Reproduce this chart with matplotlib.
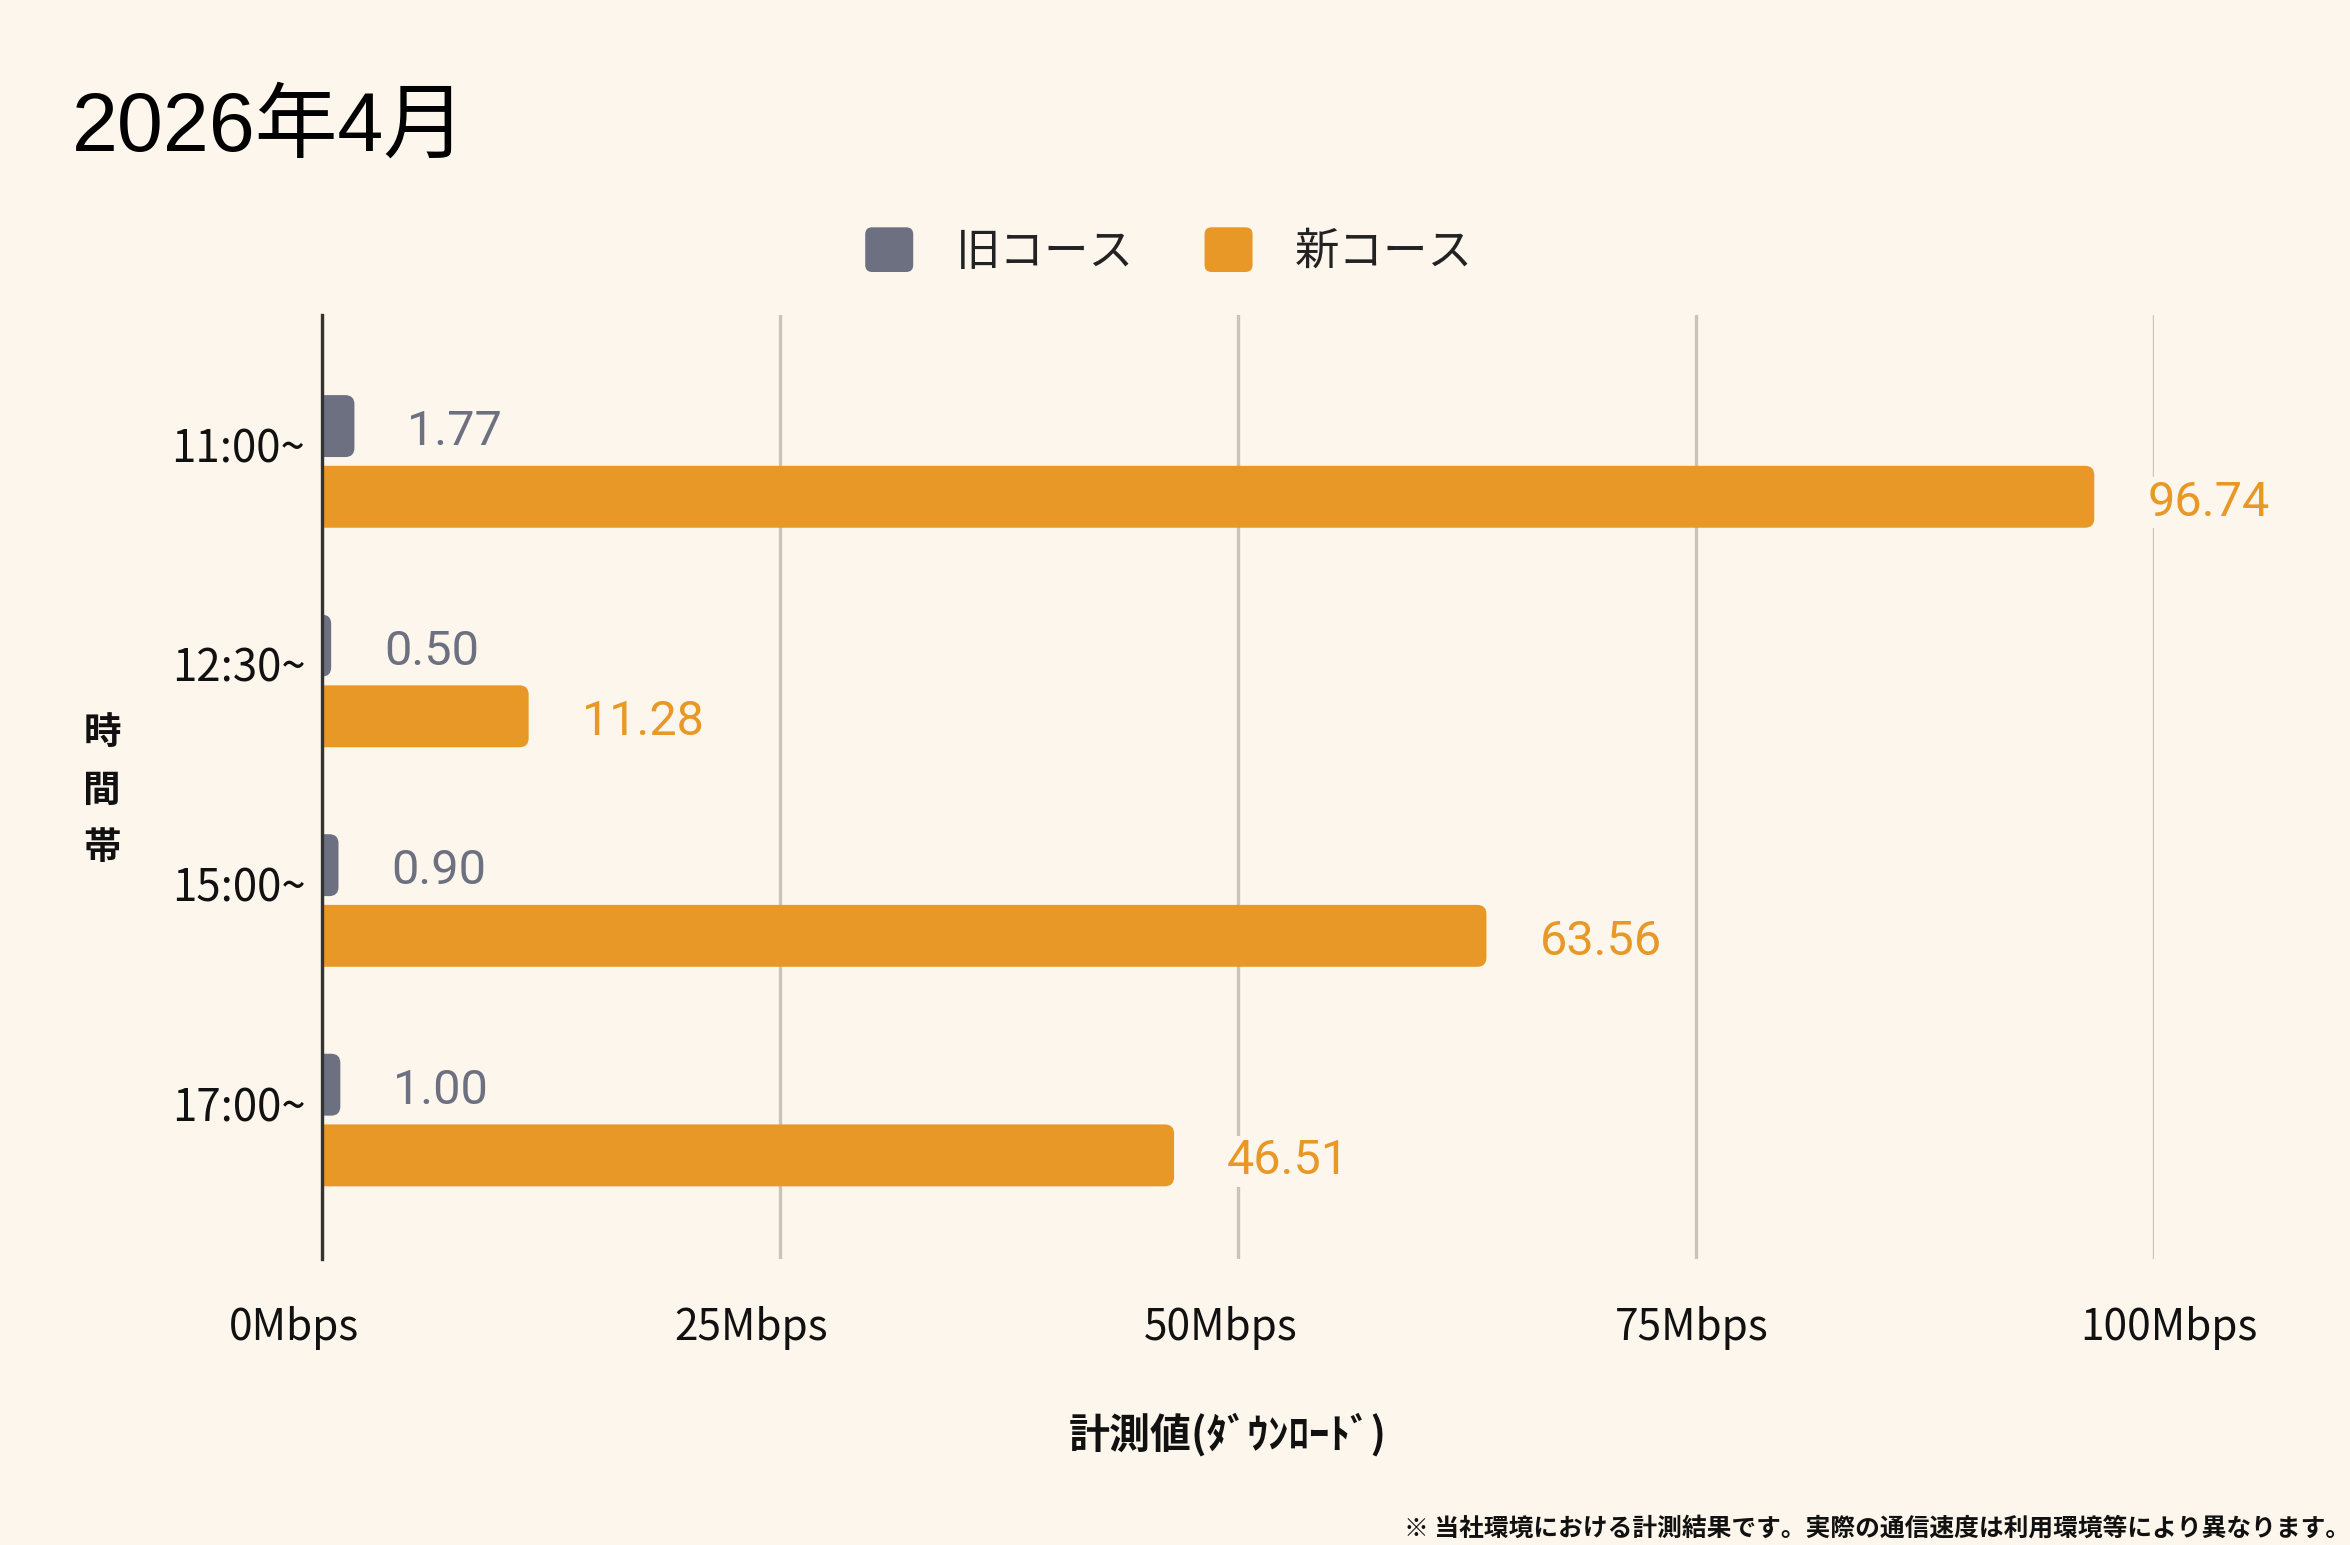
import matplotlib
matplotlib.use("Agg")
import matplotlib.pyplot as plt
import matplotlib.transforms as mtransforms
from matplotlib.patches import FancyBboxPatch, Patch
from matplotlib.legend_handler import HandlerBase

# ---------------- data ----------------
categories = ["11:00~", "12:30~", "15:00~", "17:00~"]
old_values = [1.77, 0.50, 0.90, 1.00]
new_values = [96.74, 11.28, 63.56, 46.51]
series_names = ["旧コース", "新コース"]
x_ticks = [0, 25, 50, 75, 100]
x_tick_labels = ["0Mbps", "25Mbps", "50Mbps", "75Mbps", "100Mbps"]
title_text = "2026年4月"
y_label = "時間帯"
x_label = "計測値(ﾀﾞｳﾝﾛｰﾄﾞ)"
footnote = "※ 当社環境における計測結果です。実際の通信速度は利用環境等により異なります。"

# ---------------- style ----------------
BG = "#fdf6ec"
OLD = "#6c7080"
NEW = "#e79826"
GRID = "#c8c5b8"
CJK = ["Noto Sans CJK JP", "DejaVu Sans"]
xtick_label_shift_px = [-28, -29, -17, -4, 15]  # label placement tweak

W, H, DPI = 2350, 1545, 100
fig = plt.figure(figsize=(W / DPI, H / DPI), dpi=DPI, facecolor=BG)

left, right, top, bottom = 322, 2154, 315, 1259
ax = fig.add_axes([left / W, 1 - bottom / H, (right - left) / W, (bottom - top) / H])
ax.set_facecolor(BG)

ax.set_xlim(0, 100)
ax.set_ylim(3.633, -0.667)

px_per_x = (right - left) / 100.0
px_per_y = (bottom - top) / (3.633 + 0.667)
aspect = px_per_x / px_per_y

bar_h = 0.282
off = 0.161
r = 0.5  # rounding in x units


def rounded_barh(ys, widths, color):
    for y, w in zip(ys, widths):
        p = FancyBboxPatch((-r, y - bar_h / 2), w + r, bar_h,
                           boxstyle=f"round,pad=0,rounding_size={r}",
                           mutation_aspect=aspect, facecolor=color,
                           edgecolor="none", zorder=3)
        ax.add_patch(p)


ypos = list(range(len(categories)))
rounded_barh([y - off for y in ypos], old_values, OLD)
rounded_barh([y + off for y in ypos], new_values, NEW)

for vals, sign, col in ((old_values, -1, OLD), (new_values, 1, NEW)):
    for y, v in zip(ypos, vals):
        ax.annotate(f"{v:.2f}", xy=(v, y + sign * off), xytext=(53, -6),
                    textcoords="offset pixels",
                    ha="left", va="center", fontsize=35, family="Roboto", color=col,
                    annotation_clip=False, zorder=4,
                    bbox=dict(boxstyle="square,pad=0.05", fc=BG, ec="none"))

# grid & spines
ax.set_xticks(x_ticks)
ax.set_xticklabels(x_tick_labels, family=CJK, fontsize=30.5, color="#111111")
ax.xaxis.grid(True, color=GRID, linewidth=2.4, zorder=0)
ax.set_axisbelow(True)
for s in ["top", "right", "bottom"]:
    ax.spines[s].set_visible(False)
ax.spines["left"].set_color("#333333")
ax.spines["left"].set_linewidth(2.4)
ax.spines["left"].set_zorder(5)
ax.tick_params(axis="x", length=0, pad=34)
ax.tick_params(axis="y", length=0, pad=12)

ax.set_yticks(ypos)
ax.set_yticklabels(categories, family=CJK, fontsize=31.5, color="#111111")

# label placement tweaks (after tick_params, which resets transforms)
for lab, dx in zip(ax.get_xticklabels(), xtick_label_shift_px):
    lab.set_transform(lab.get_transform() +
                      mtransforms.ScaledTranslation(dx / DPI, 0, fig.dpi_scale_trans))
shift = mtransforms.ScaledTranslation(0, 17 / DPI, fig.dpi_scale_trans)
for lab in ax.get_yticklabels():
    lab.set_transform(lab.get_transform() + shift)

# axis titles
fig.text(102 / W, 1 - 790 / H, "\n".join(y_label), ha="center", va="center",
         family=CJK, fontsize=27, weight="bold", linespacing=1.59, color="#111111")
fig.text(1228 / W, 1 - 1435 / H, x_label, ha="center", va="center",
         family=CJK, fontsize=29.5, weight="bold", color="#111111")

# title
fig.text(72 / W, 1 - 151 / H, title_text, ha="left", va="baseline",
         family=["Liberation Sans", "Noto Sans CJK JP"], fontsize=59.5, color="black")

# footnote
fig.text(2350 / W, 1 - 1529 / H, footnote, ha="right", va="center",
         family=CJK, fontsize=17.8, weight="bold", color="#111111")


# legend with rounded squares
class RoundHandler(HandlerBase):
    def create_artists(self, legend, orig_handle, xdescent, ydescent, width, height, fontsize, trans):
        p = FancyBboxPatch((-xdescent, -ydescent), width, height,
                           boxstyle="round,pad=0,rounding_size=5",
                           facecolor=orig_handle.get_facecolor(), edgecolor="none",
                           transform=trans)
        return [p]


handles = [Patch(facecolor=OLD), Patch(facecolor=NEW)]
leg = fig.legend(handles, series_names, loc="center",
                 bbox_to_anchor=(1169 / W, 1 - 251 / H), ncol=2, frameon=False,
                 handler_map={Patch: RoundHandler()},
                 prop={"family": CJK, "size": 32},
                 handlelength=1.08, handleheight=1.17, handletextpad=0.95,
                 columnspacing=1.6, borderpad=0)
for t in leg.get_texts():
    t.set_color("#222222")

fig.savefig("out.png", dpi=DPI, facecolor=BG)
